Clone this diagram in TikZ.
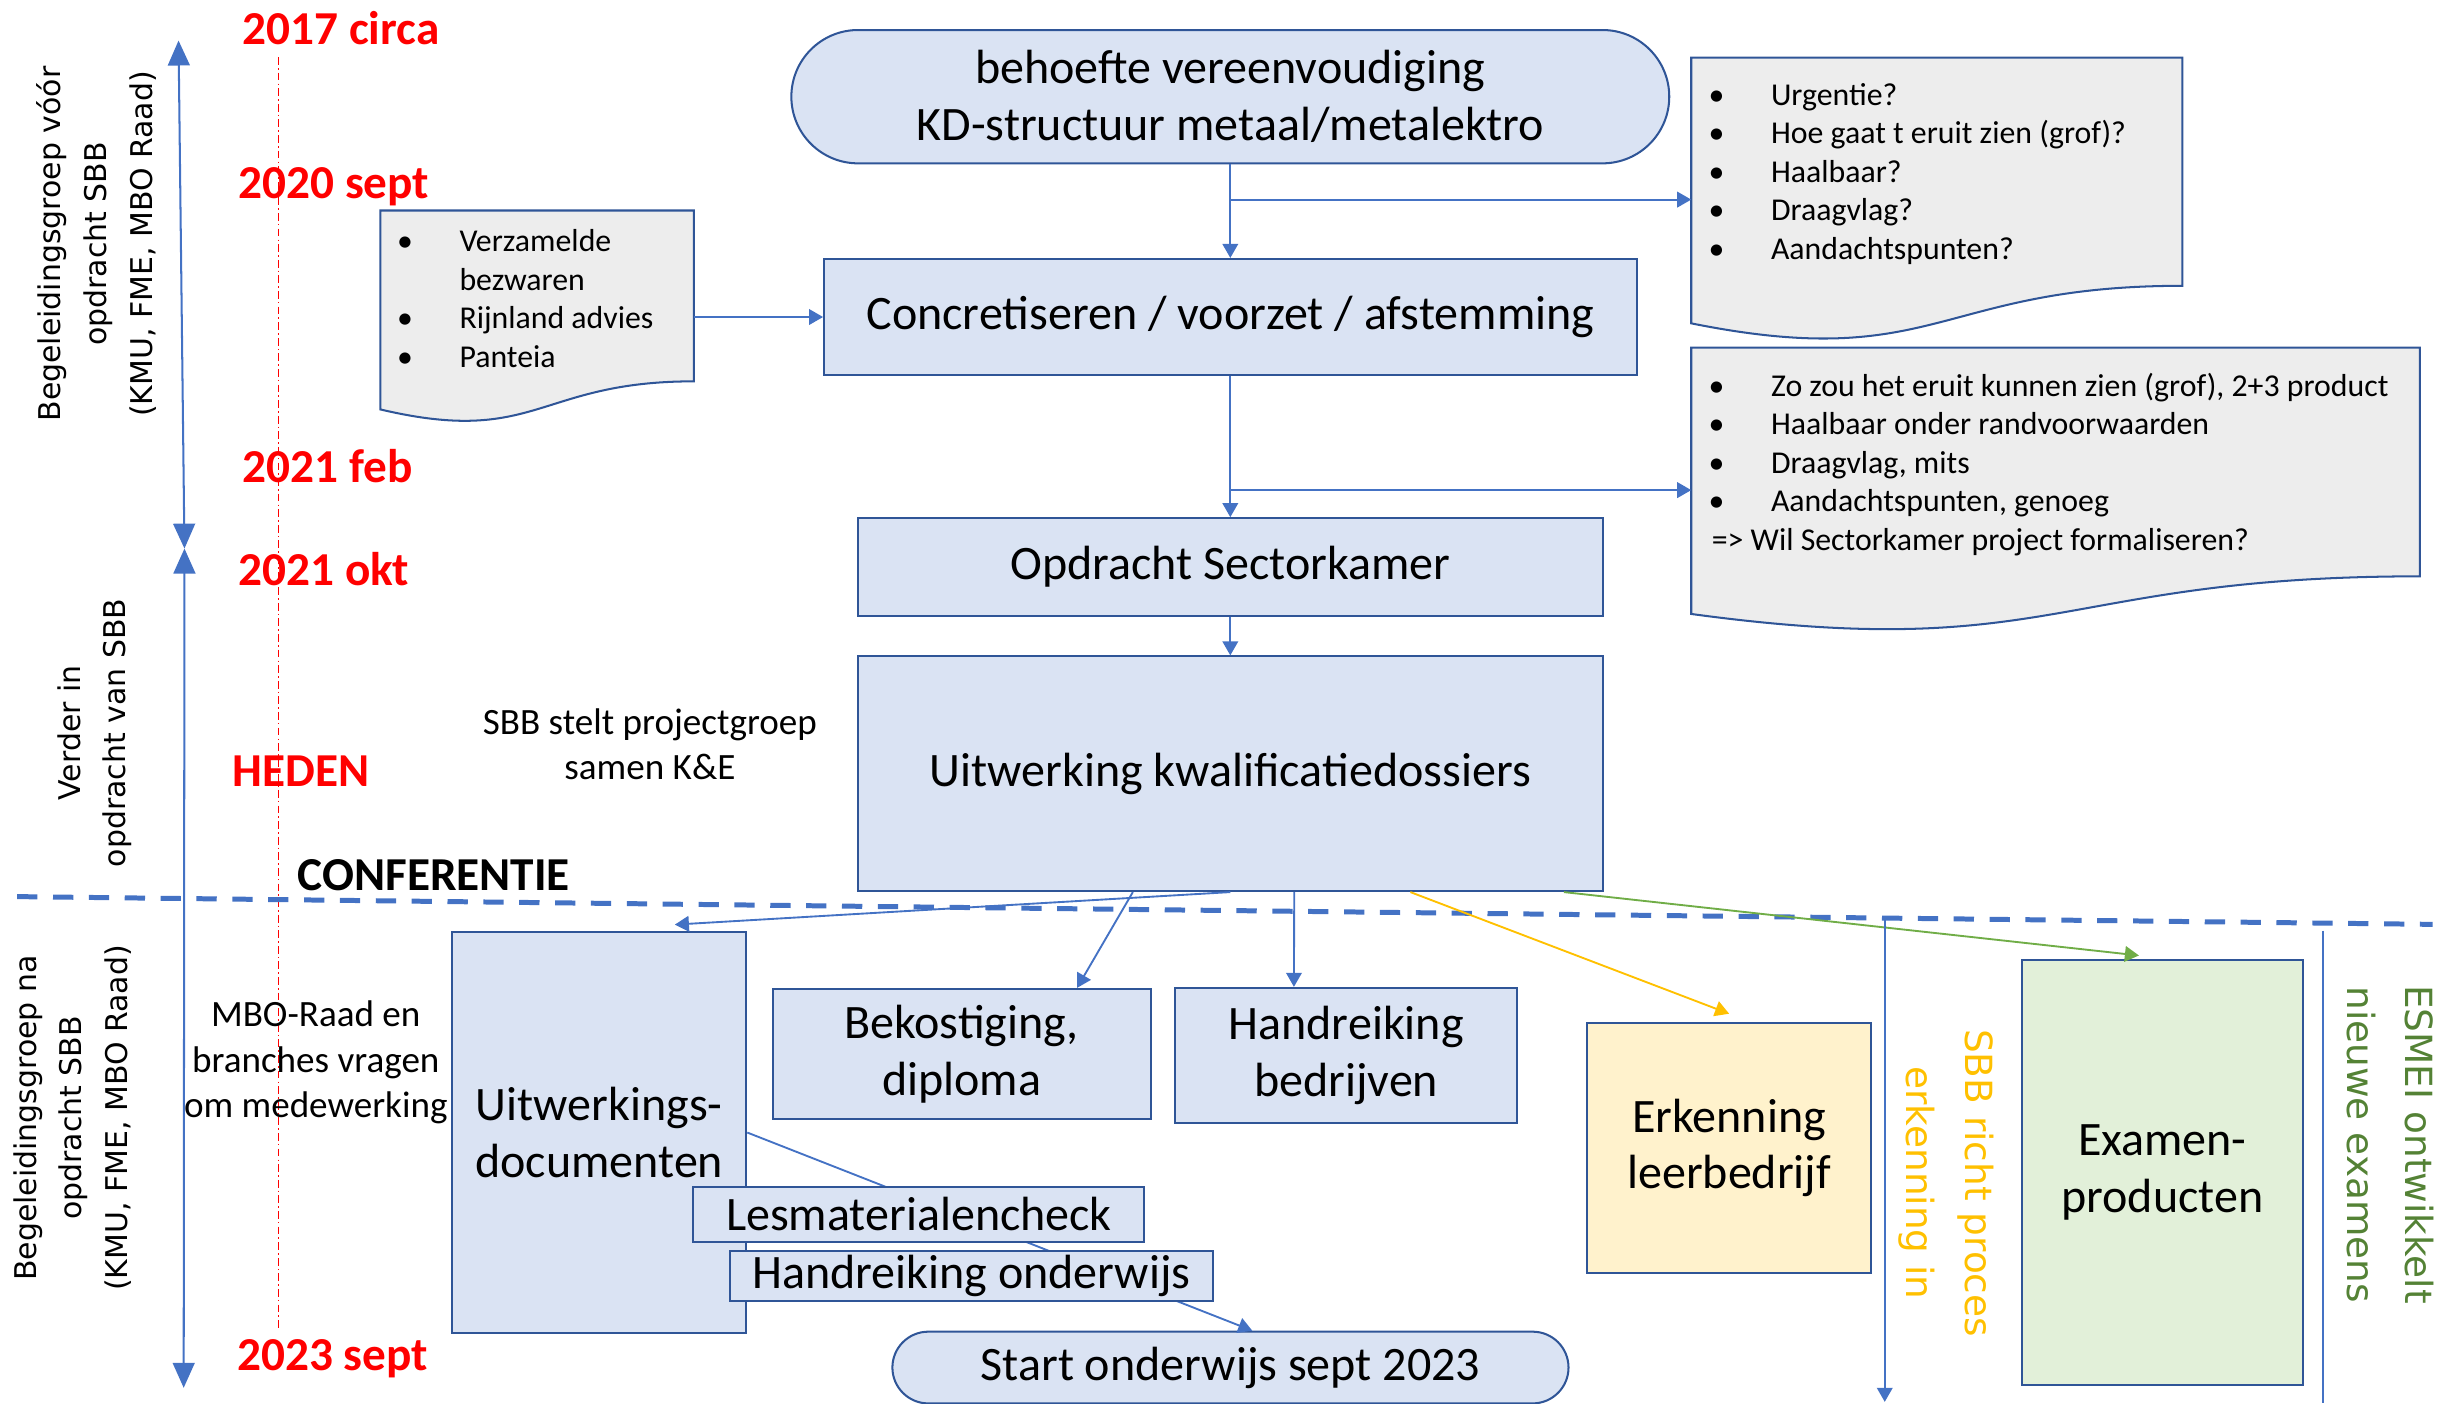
\documentclass[tikz,border=0pt]{standalone}
\usepackage{fontspec}
\setmainfont{Carlito}
\newfontfamily\verdfont{DejaVu Sans}
\usetikzlibrary{arrows.meta,shapes.misc}

\definecolor{boxfill}{HTML}{DAE3F3}
\definecolor{boxline}{HTML}{2F5597}
\definecolor{linkblue}{HTML}{4472C4}
\definecolor{docfill}{HTML}{EDEDED}
\definecolor{erkfill}{HTML}{FFF2CC}
\definecolor{examfill}{HTML}{E2F0D9}
\definecolor{orangeline}{HTML}{FFC000}
\definecolor{greenline}{HTML}{70AD47}
\definecolor{greentext}{HTML}{548235}

\tikzset{
  procbox/.style={draw=boxline, fill=boxfill, line width=1.3pt, inner sep=0pt, align=center,
    font=\fontsize{30.8}{36.5}\selectfont},
  termbox/.style={procbox, rounded rectangle},
  docline/.style={draw=boxline, fill=docfill, line width=1.3pt},
  doctext/.style={anchor=west, inner sep=0pt, align=left, font=\fontsize{20.4}{24.7}\selectfont},
  sidetext/.style={inner sep=0pt, align=center, font=\fontsize{23.8}{29}\selectfont},
  datelabel/.style={anchor=base west, inner sep=0pt, text=red, font=\bfseries\fontsize{30.3}{36}\selectfont},
  grouplabel/.style={inner sep=0pt, align=center, rotate=90, font=\verdfont\fontsize{19.2}{29.3}\selectfont},
  phaselabel/.style={inner sep=0pt, align=center, rotate=-90, font=\verdfont\fontsize{24}{37.5}\selectfont},
  flow/.style={draw=linkblue, line width=1.2pt, -{Triangle[length=9pt,width=10pt]}},
  span/.style={draw=linkblue, line width=1.3pt, {Triangle[length=16pt,width=14pt]}-{Triangle[length=16pt,width=14pt]}}
}

% document shape: left, top, width, height
\newcommand{\docshape}[4]{%
  \draw[docline] (#1,#2) -- ({#1+#3},#2) -- ({#1+#3},{#2+0.802*#4})
    .. controls ({#1+0.5*#3},{#2+0.802*#4}) and ({#1+0.5*#3},{#2+1.1075*#4}) .. (#1,{#2+0.934*#4}) -- cycle;}
\newcommand{\docbullet}{\makebox[40pt][l]{\textbullet}}

\begin{document}
\begin{tikzpicture}[x=1pt, y=-1pt]
  \useasboundingbox (0,0) rectangle (1568,900);
  \clip (0,0) rectangle (1568,900);

  % time axis
  \coordinate (t0) at (114.5,26);
  \coordinate (t1) at (118.3,351.8);
  \coordinate (t2) at (117.8,890);
  \draw[span] (t0) -- (t1);
  \draw[span] (t1) -- (t2);
  \coordinate (r0) at (178.5,36.6);
  \coordinate (r1) at (178.5,853);
  \draw[red, line width=0.8pt, dash pattern=on 5pt off 2pt on 1pt off 2pt] (r0) -- (r1);

  \node[datelabel] (d2017) at (155.4,28.6) {2017 circa};
  \node[datelabel] (d2020) at (152.8,127.1) {2020 sept};
  \node[datelabel] (d2021f) at (155.4,309.2) {2021 feb};
  \node[datelabel] (d2021o) at (152.8,375.2) {2021 okt};
  \node[datelabel] (heden) at (149,504.5) {HEDEN};
  \node[datelabel, text=black] (conf) at (190.7,570.8) {CONFERENTIE};
  \node[datelabel] (d2023) at (152,878.7) {2023 sept};

  \node[grouplabel] (bg1) at (61.8,156.5) {Begeleidingsgroep vóór\\opdracht SBB\\(KMU, FME, MBO Raad)};
  \node[grouplabel] (sbb) at (60.8,470) {Verder in\\opdracht van SBB};
  \node[grouplabel] (bg2) at (46.4,717) {Begeleidingsgroep na\\opdracht SBB\\(KMU, FME, MBO Raad)};

  % top part
  \node[termbox, minimum width=563pt, minimum height=85.5pt] (need) at (789,62) {behoefte vereenvoudiging\\KD-structuur metaal/metalektro};
  \node[procbox, minimum width=521pt, minimum height=74.5pt] (conc) at (789,203.3) {Concretiseren / voorzet / afstemming};
  \node[procbox, minimum width=478pt, minimum height=62.6pt] (opdr) at (789,363.6) {Opdracht Sectorkamer};
  \node[procbox, minimum width=478pt, minimum height=150.5pt] (uitw) at (789,496.2) {Uitwerking kwalificatiedossiers};

  \docshape{244}{135}{201}{136.6}
  \node[doctext] (bron) at (254.5,191.5) {\docbullet Verzamelde\\\hspace*{40pt}bezwaren\\\docbullet Rijnland advies\\\docbullet Panteia};
  \docshape{1084.6}{37}{315}{182.4}
  \node[doctext] (qa) at (1095.6,111.5) {\docbullet Urgentie?\\\docbullet Hoe gaat t eruit zien (grof)?\\\docbullet Haalbaar?\\\docbullet Draagvlag?\\\docbullet Aandachtspunten?};
  \docshape{1084.6}{223}{467.2}{182.8}
  \node[doctext] (qb) at (1095.6,297.9) {\docbullet Zo zou het eruit kunnen zien (grof), 2+3 product\\\docbullet Haalbaar onder randvoorwaarden\\\docbullet Draagvlag, mits\\\docbullet Aandachtspunten, genoeg\\\hspace*{2pt}=> Wil Sectorkamer project formaliseren?};

  \coordinate (br1) at (789,128);
  \coordinate (qain) at (1084.6,128);
  \coordinate (br2) at (789,314.3);
  \coordinate (qbin) at (1084.6,314.3);
  \coordinate (bronout) at (445,203.3);
  \foreach \from/\to in {need/conc, conc/opdr, opdr/uitw}
    \draw[flow] (\from.south) -- (\to.north);
  \draw[flow] (br1) -- (qain);
  \draw[flow] (br2) -- (qbin);
  \draw[flow] (bronout) -- (conc.west);

  \node[sidetext] (pg) at (416.8,477.3) {SBB stelt projectgroep\\samen K\&E};
  \node[sidetext] (mbo) at (202.5,681.3) {MBO-Raad en\\branches vragen\\om medewerking};

  % conference line
  \coordinate (cl) at (11,575);
  \coordinate (cr) at (1560,592.8);
  \draw[linkblue, line width=3.2pt, dash pattern=on 13pt off 10pt] (cl) -- (cr);

  % bottom part
  \node[procbox, minimum width=188.6pt, minimum height=257.4pt] (udoc) at (384.3,726.3) {Uitwerkings-\\documenten};
  \node[termbox, minimum width=433.6pt, minimum height=46pt] (start) at (789.1,877) {Start onderwijs sept 2023};
  \draw[flow] (udoc.east) -- ([xshift=14pt]start.north);
  \node[procbox, minimum width=289.2pt, minimum height=35.1pt] (lesm) at (589.3,778.7) {Lesmaterialencheck};
  \node[procbox, minimum width=310pt, minimum height=32.3pt] (hond) at (623,818.2) {Handreiking onderwijs};
  \node[procbox, minimum width=242.5pt, minimum height=83.6pt] (bekos) at (616.7,676) {Bekostiging,\\diploma};
  \node[procbox, minimum width=219.6pt, minimum height=86.8pt] (hbedr) at (863.3,676.9) {Handreiking\\bedrijven};
  \node[procbox, fill=erkfill, minimum width=181.7pt, minimum height=160.9pt] (erk) at (1108.9,736.2) {Erkenning\\leerbedrijf};
  \node[procbox, fill=examfill, minimum width=180.6pt, minimum height=273pt] (exam) at (1386.7,751.9) {Examen-\\producten};

  \draw[flow] (uitw.south) -- ([xshift=48.5pt, yshift=4pt]udoc.north);
  \draw[flow] ([xshift=-62.5pt]uitw.south) -- ([xshift=74pt]bekos.north);
  \draw[flow] ([xshift=41pt]uitw.south) -- ([xshift=-33.5pt]hbedr.north);
  \draw[flow, draw=orangeline] ([xshift=115.5pt]uitw.south) -- ([yshift=5pt]erk.north);
  \draw[flow, draw=greenline] ([xshift=214pt]uitw.south) -- ([xshift=-15pt, yshift=2pt]exam.north);

  \coordinate (v1a) at (1208.7,589);
  \coordinate (v1b) at (1208.7,899);
  \draw[flow] (v1a) -- (v1b);
  \coordinate (v2a) at (1489.7,596.8);
  \coordinate (v2b) at (1489.7,900);
  \draw[linkblue, line width=1.2pt] (v2a) -- (v2b);

  \node[phaselabel, text=orangeline] (erkproc) at (1248.2,758.7) {SBB richt proces\\erkenning in};
  \node[phaselabel, text=greentext] (esmei) at (1533.1,734) {ESMEI ontwikkelt\\nieuwe examens};
\end{tikzpicture}
\end{document}
